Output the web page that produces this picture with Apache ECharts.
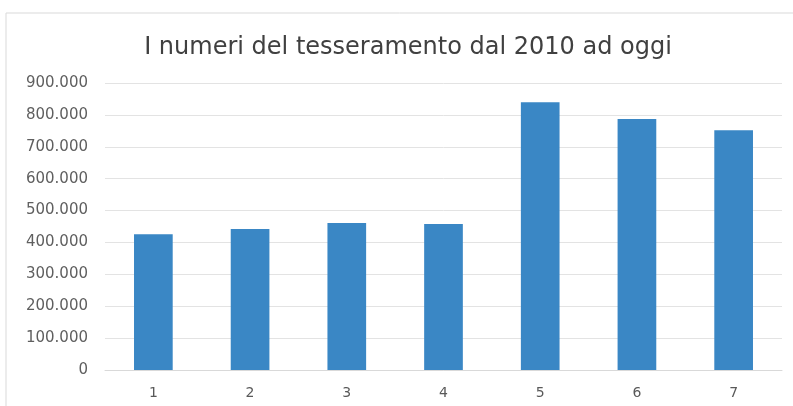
<!DOCTYPE html>
<html><head><meta charset="utf-8">
<script src="https://cdn.jsdelivr.net/npm/echarts@6/dist/echarts.min.js"></script>
<style>html,body{margin:0;padding:0;background:#fff}#c{width:793px;height:406px}</style>
</head><body><div id="c"></div>
<script>
const titleText = "I numeri del tesseramento dal 2010 ad oggi";
const categories = ["1","2","3","4","5","6","7"];
const values = [426000, 442000, 461000, 458000, 840000, 787000, 752000];
const yMin = 0, yMax = 900000, yInterval = 100000;

const chart = echarts.init(document.getElementById('c'));
chart.setOption({
  animation: false,
  backgroundColor: '#ffffff',
  graphic: [
    {type:'line', shape:{x1:6,y1:13,x2:793,y2:13}, style:{stroke:'#d9d9d9',lineWidth:1}},
    {type:'line', shape:{x1:6,y1:13,x2:6,y2:406}, style:{stroke:'#d9d9d9',lineWidth:1}}
  ],
  title: {
    text: titleText, left: 403, textAlign: 'center', top: 31,
    textStyle: {fontFamily:'DejaVu Sans', fontSize:24, fontWeight:'normal', color:'#404040'}
  },
  grid: {left:105, right:11, top:83, bottom:36, containLabel:false},
  xAxis: {
    type:'category', data: categories,
    axisLine:{lineStyle:{color:'#d9d9d9'}}, axisTick:{show:false},
    axisLabel:{color:'#595959', fontFamily:'DejaVu Sans', fontSize:14, margin:16}
  },
  yAxis: {
    type:'value', min:yMin, max:yMax, interval:yInterval,
    axisLine:{show:false}, axisTick:{show:false},
    splitLine:{lineStyle:{color:'#e3e3e3'}},
    axisLabel:{color:'#5f5f5f', fontFamily:'DejaVu Sans', fontSize:15, margin:17,
      formatter: v => v.toString().replace(/\B(?=(\d{3})+(?!\d))/g, '.')}
  },
  series: [{
    type:'bar', data: values, barCategoryGap:'60%',
    itemStyle:{color:'#3a87c5'}
  }]
});
</script></body></html>
